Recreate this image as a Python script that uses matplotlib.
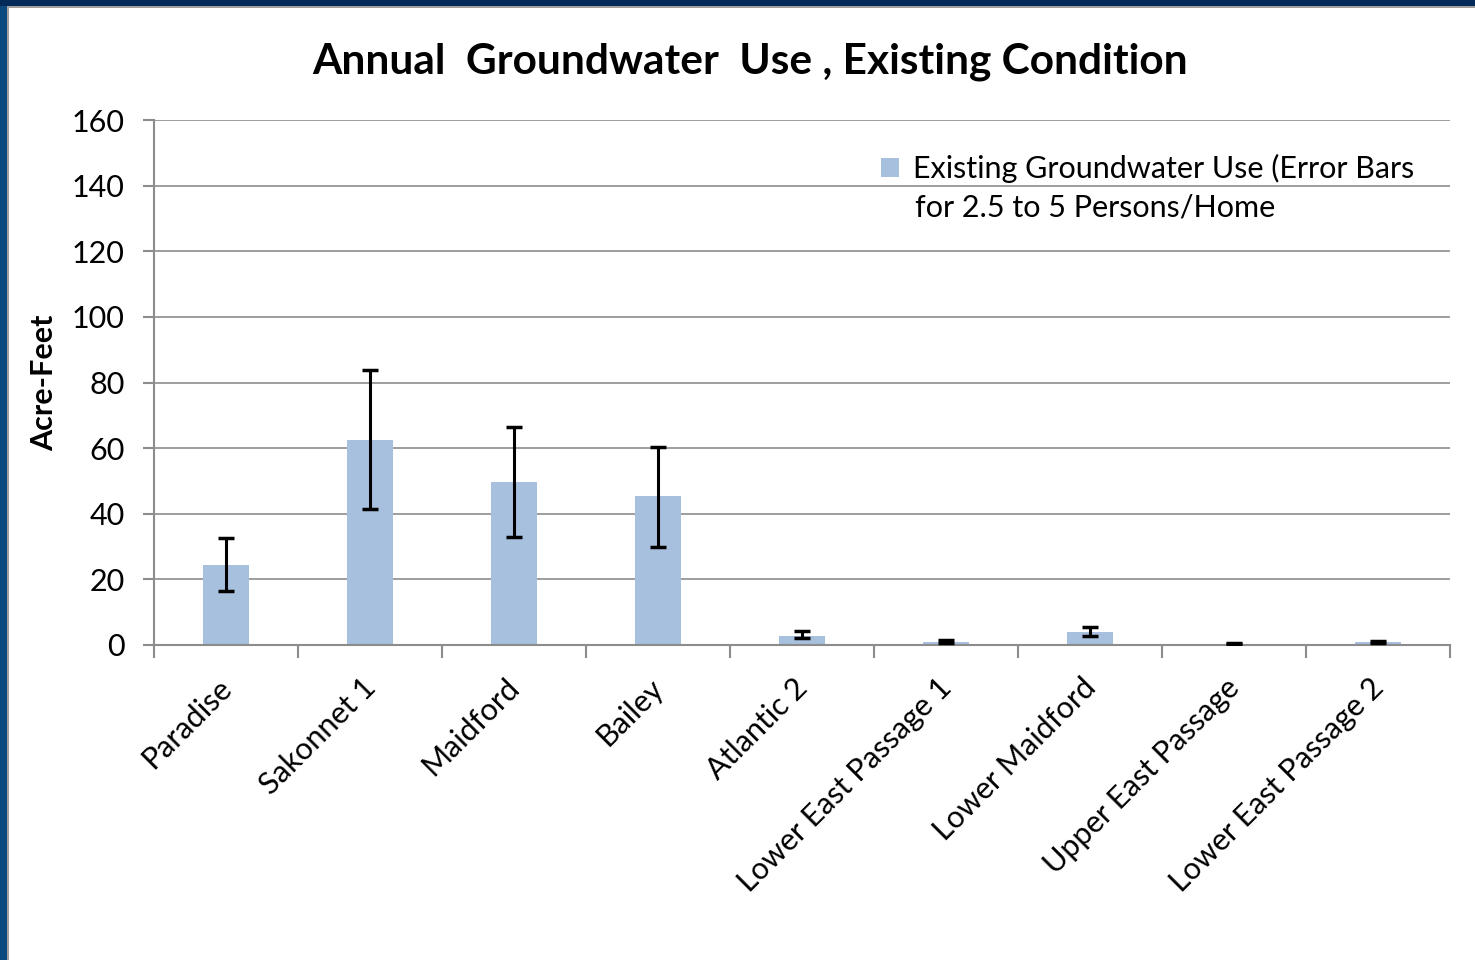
import matplotlib
matplotlib.use("Agg")
import matplotlib.pyplot as plt
import matplotlib.transforms as mtransforms
import numpy as np
from matplotlib.patches import Rectangle

categories = ["Paradise", "Sakonnet 1", "Maidford", "Bailey", "Atlantic 2",
              "Lower East Passage 1", "Lower Maidford", "Upper East Passage",
              "Lower East Passage 2"]
values = [24.4, 62.5, 49.7, 45.4, 2.8, 1.0, 4.0, 0.4, 0.8]
err_low = [16.5, 41.5, 32.9, 29.9, 2.0, 0.7, 2.6, 0.3, 0.5]
err_high = [32.6, 83.8, 66.4, 60.3, 4.3, 1.6, 5.5, 0.6, 1.3]
yticks = [0, 20, 40, 60, 80, 100, 120, 140, 160]
legend_line1 = 'Existing Groundwater Use (Error Bars'
legend_line2 = 'for 2.5 to 5 Persons/Home'

plt.rcParams['font.family'] = ['Lato', 'DejaVu Sans']

fig = plt.figure(figsize=(14.75, 9.6), dpi=100)
fig.patch.set_facecolor('white')

# border decoration
fig.patches.append(Rectangle((0, 0), 7/1475, 1, transform=fig.transFigure,
                             facecolor='#0b4a7e', edgecolor='none', zorder=0))
fig.patches.append(Rectangle((0, 1 - 6/960), 1, 6/960, transform=fig.transFigure,
                             facecolor='#032a58', edgecolor='none', zorder=0))
fig.patches.append(Rectangle((7/1475, 1 - 8/960), 1, 2/960, transform=fig.transFigure,
                             facecolor='#a0a0a0', edgecolor='none', zorder=0))
fig.patches.append(Rectangle((7/1475, 0), 1.5/1475, 1 - 6/960, transform=fig.transFigure,
                             facecolor='#a0a0a0', edgecolor='none', zorder=0))

L, R = 154/1475, 1450/1475
B, T = 1 - 645/960, 1 - 120/960
ax = fig.add_axes([L, B, R - L, T - B])

x = np.arange(len(categories))
yerr = [np.array(values) - np.array(err_low), np.array(err_high) - np.array(values)]
ax.bar(x, values, width=0.32, color='#a7c0de', zorder=2, label=legend_line1)
ax.errorbar(x, values, yerr=yerr, fmt='none', ecolor='black', elinewidth=2.2,
            capsize=6, capthick=2.5, zorder=3)

ax.set_xlim(-0.5, len(categories) - 0.5)
ax.set_ylim(0, 160)
ax.set_yticks(yticks)
ax.grid(axis='y', color='#8c8c8c', linewidth=1.2, zorder=0)
ax.set_axisbelow(True)
for s in ['top', 'right']:
    ax.spines[s].set_visible(False)
ax.spines['left'].set_color('#8c8c8c')
ax.spines['bottom'].set_color('#8c8c8c')
ax.spines['left'].set_linewidth(1.5)
ax.spines['bottom'].set_linewidth(1.5)

ax.set_xticks(np.arange(len(categories) + 1) - 0.5, minor=False)
ax.set_xticklabels([])
ax.set_xticks(x, minor=True)
ax.set_xticklabels(categories, minor=True, rotation=45, ha='right',
                   rotation_mode='anchor', fontsize=22)
ax.tick_params(axis='x', which='major', length=9, width=1.5, color='#8c8c8c')
ax.tick_params(axis='x', which='minor', length=0, pad=14)
ax.tick_params(axis='y', length=8, width=1.5, color='#8c8c8c', labelsize=22, pad=13)

offset = mtransforms.ScaledTranslation(-9/100, -9/100, fig.dpi_scale_trans)
for lbl in ax.get_xticklabels(minor=True):
    lbl.set_transform(lbl.get_transform() + offset)

ax.set_ylabel('Acre-Feet', fontsize=22, fontweight='bold', labelpad=10)

fig.text(750/1475, 1 - 62/960, 'Annual  Groundwater  Use , Existing Condition',
         ha='center', va='center', fontsize=30.5, fontweight='bold')

leg = ax.legend(loc='upper left', bbox_to_anchor=(0.561, 0.935), frameon=False,
                fontsize=22, handlelength=0.6, handleheight=0.6, handletextpad=0.45,
                borderaxespad=0, borderpad=0)
fig.text(915/1475, 1 - 208/960, legend_line2, ha='left', va='center', fontsize=22)

fig.savefig('out.png', dpi=100, facecolor='white')
